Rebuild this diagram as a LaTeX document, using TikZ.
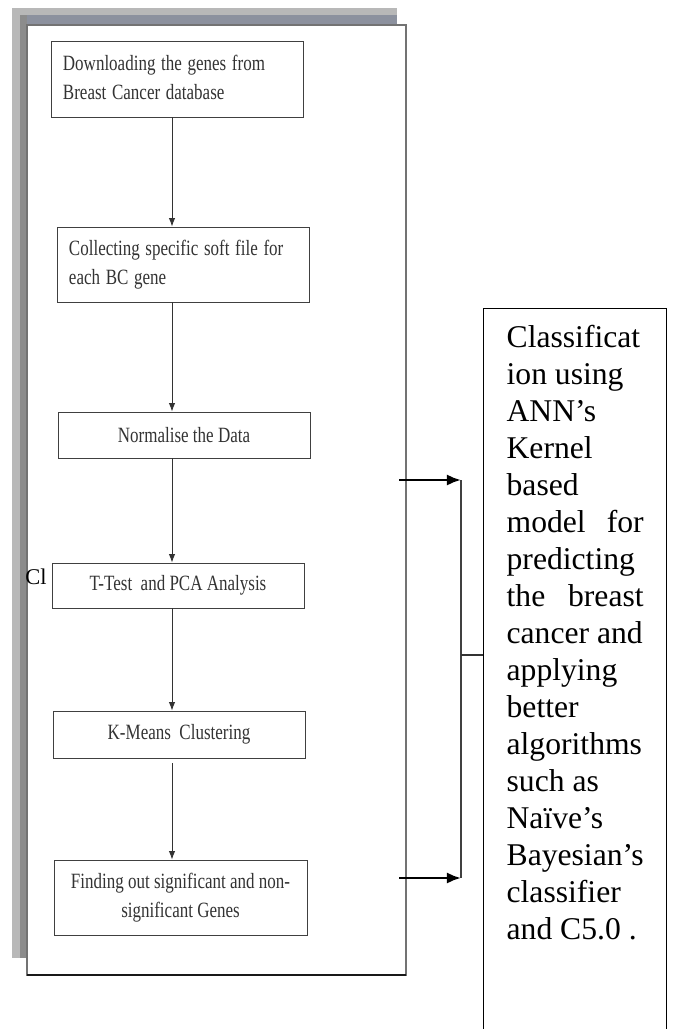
\documentclass[tikz,border=0pt]{standalone}
\usepackage{fontspec}
\setmainfont{Liberation Serif}
\usepackage{graphicx}
\usetikzlibrary{arrows.meta,positioning}
\definecolor{shadeband}{RGB}{140,145,158}
\tikzset{every picture/.style={line width=0.5pt}}
\tikzstyle{stepbox}=[draw=black!75,line width=0.6pt,fill=white,minimum width=6.3cm,inner sep=0pt,text=black!80,font=\fontsize{15.5}{20.6}\selectfont]
\tikzstyle{bigbox}=[draw=black,line width=0.9pt,anchor=north west,inner xsep=0.575cm,inner ysep=0pt,font=\fontsize{22.5}{26.3}\selectfont]
\newcommand{\tall}[1]{\scalebox{0.78}[1]{#1}}

\begin{document}
\begin{tikzpicture}[x=0.025cm,y=-0.025cm]
\useasboundingbox (0,0) rectangle (674,1029);
% page frame with its shadow
\fill[black!28] (12,8) rectangle (397,958);
\fill[shadeband] (20,15) rectangle (397,25);
\fill[black!45] (20,15) rectangle (27,958);
\draw[black!55,line width=1.1pt,fill=white] (27,25) rectangle (406,975);
\draw[black!90,line width=1.6pt] (27,975) -- (406,975);
% steps
\coordinate (S) at (172,0);
\node[stepbox,minimum height=1.9cm,text width=5.7cm,align=left] (A) at (177,79) {\tall{\begin{tabular}{@{}l@{}}Downloading the genes from\\Breast Cancer database\end{tabular}}};
\node[stepbox,minimum height=1.875cm,text width=5.7cm,align=left] (B) at (183,264.5) {\tall{\begin{tabular}{@{}l@{}}Collecting specific soft file for\\each BC gene\end{tabular}}};
\node[stepbox,minimum height=1.15cm] (C) at (184,435) {\tall{Normalise the Data}};
\node[stepbox,minimum height=1.125cm] (D) at (178,585.5) {\tall{T-Test\ \ and PCA Analysis}};
\node[stepbox,minimum height=1.175cm] (E) at (179,734.5) {\tall{K-Means\ \ Clustering}};
\node[stepbox,minimum height=1.875cm,minimum width=6.325cm] (F) at (180.5,897.5) {\tall{\begin{tabular}{@{}c@{}}Finding out significant and non-\\significant Genes\end{tabular}}};
\node[anchor=base west,inner sep=0pt,font=\fontsize{16}{18}\selectfont] (L) at (25,584) {Cl};
\path[-{Latex[length=6pt,width=4.5pt]},black!80,line width=0.6pt]
(A.south -| S) edge (B.north -| S)
(B.south -| S) edge (C.north -| S)
(C.south -| S) edge (D.north -| S)
(D.south -| S) edge (E.north -| S)
([yshift=-0.12cm]E.south -| S) edge (F.north -| S);
% result box
\node[bigbox] (G) at (483,308) {\parbox[t][18.4cm][t]{3.425cm}{\raggedright\rule{0pt}{27.7pt}Classificat\\ion using\\ANN’s\\Kernel\\based\\model\hfill for\\predicting\\the\hfill breast\\cancer and\\applying\\better\\algorithms\\such as\\Naïve’s\\Bayesian’s\\classifier\\and C5.0 .}};
\coordinate (P1) at (399,480);
\coordinate (Q1) at (461,480);
\coordinate (P2) at (399,878);
\coordinate (Q2) at (461,878);
\coordinate (M) at (461,655);
\draw[black!75,line width=1.1pt] (Q1) -- (Q2);
\draw[black!80,line width=0.8pt] (M) -- (M -| G.west);
\path[-{Latex[length=10pt,width=8pt]},line width=1.9pt]
(P1) edge (Q1)
(P2) edge (Q2);
\end{tikzpicture}
\end{document}
